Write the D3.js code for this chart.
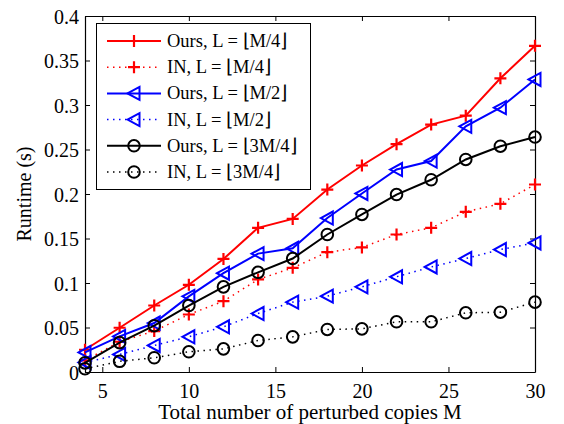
<!DOCTYPE html>
<html>
<head>
<meta charset="utf-8">
<script src="https://cdn.jsdelivr.net/npm/d3@7"></script>
<style>
  body { margin: 0; background: #fff; }
</style>
</head>
<body>
<script>
var copies = [4, 6, 8, 10, 12, 14, 16, 18, 20, 22, 24, 26, 28, 30];
var oursQuarter = [0.025, 0.0497, 0.0747, 0.098, 0.127, 0.162, 0.172, 0.205, 0.232, 0.256, 0.278, 0.288, 0.33, 0.3665];
var inQuarter   = [0.013, 0.034, 0.046, 0.0646, 0.0796, 0.104, 0.117, 0.1346, 0.140, 0.1545, 0.162, 0.180, 0.189, 0.2107];
var oursHalf    = [0.022, 0.040, 0.055, 0.085, 0.111, 0.133, 0.139, 0.173, 0.2006, 0.2275, 0.237, 0.276, 0.297, 0.3287];
var inHalf      = [0.0107, 0.0197, 0.0298, 0.0396, 0.0508, 0.0657, 0.0785, 0.0852, 0.0957, 0.107, 0.118, 0.1275, 0.1376, 0.145];
var oursThree   = [0.0103, 0.033, 0.052, 0.0747, 0.0957, 0.112, 0.1275, 0.1545, 0.177, 0.1994, 0.216, 0.2388, 0.2537, 0.264];
var inThree     = [0.0036, 0.012, 0.016, 0.0227, 0.026, 0.0354, 0.0395, 0.0478, 0.0485, 0.0564, 0.0564, 0.0665, 0.0672, 0.0785];

var xTicks = [5, 10, 15, 20, 25, 30];
var yTicks = [0, 0.05, 0.1, 0.15, 0.2, 0.25, 0.3, 0.35, 0.4];
var yTickLabels = ["0", "0.05", "0.1", "0.15", "0.2", "0.25", "0.3", "0.35", "0.4"];

var series = [
  {name: "Ours, L = \u230AM/4\u230B", values: oursQuarter, color: "#ff0000", marker: "plus", dotted: false},
  {name: "IN, L = \u230AM/4\u230B", values: inQuarter, color: "#ff0000", marker: "plus", dotted: true},
  {name: "Ours, L = \u230AM/2\u230B", values: oursHalf, color: "#0000ff", marker: "tri", dotted: false},
  {name: "IN, L = \u230AM/2\u230B", values: inHalf, color: "#0000ff", marker: "tri", dotted: true},
  {name: "Ours, L = \u230A3M/4\u230B", values: oursThree, color: "#000000", marker: "circle", dotted: false},
  {name: "IN, L = \u230A3M/4\u230B", values: inThree, color: "#000000", marker: "circle", dotted: true}
];

var FONT = "Liberation Serif";

var W = 564, H = 424;
var margin = {top: 16, right: 29, bottom: 52, left: 85},
    width = W - margin.left - margin.right,
    height = H - margin.top - margin.bottom;

var svg = d3.select("body").append("svg")
    .attr("width", W)
    .attr("height", H);

var g = svg.append("g")
    .attr("transform", "translate(" + margin.left + "," + margin.top + ")");

var x = d3.scaleLinear().domain([4, 30]).range([0, width]);
var y = d3.scaleLinear().domain([0, 0.4]).range([height, 0]);

// box axes, ticks pointing inward
var xAxis = g.append("g")
    .attr("transform", "translate(0," + height + ")")
    .call(d3.axisBottom(x).tickValues(xTicks).tickSizeInner(-5).tickSizeOuter(0).tickPadding(12));
var xTop = g.append("g")
    .call(d3.axisTop(x).tickValues(xTicks).tickSizeInner(-5).tickSizeOuter(0).tickFormat(""));
var yAxis = g.append("g")
    .call(d3.axisLeft(y).tickValues(yTicks).tickSizeInner(-5).tickSizeOuter(0).tickPadding(6)
      .tickFormat(function(d, i) { return yTickLabels[i]; }));
var yRight = g.append("g")
    .attr("transform", "translate(" + width + ",0)")
    .call(d3.axisRight(y).tickValues(yTicks).tickSizeInner(-5).tickSizeOuter(0).tickFormat(""));

[xAxis, xTop, yAxis, yRight].forEach(function(a) {
  a.select(".domain").attr("stroke", "#000").attr("stroke-width", 1.2);
  a.selectAll(".tick line").attr("stroke", "#000").attr("stroke-width", 1);
  a.selectAll(".tick text").attr("fill", "#000")
    .style("font-family", FONT).style("font-size", "20px");
});
yAxis.selectAll(".tick text").attr("dy", "0.35em");

var line = d3.line()
    .x(function(d, i) { return x(copies[i]); })
    .y(function(d) { return y(d); });

function drawMarker(sel, type, color, cx, cy) {
  if (type === "plus") {
    sel.append("path")
      .attr("d", "M" + (cx - 6) + "," + cy + "H" + (cx + 6) + "M" + cx + "," + (cy - 6) + "V" + (cy + 6))
      .attr("stroke", color).attr("stroke-width", 2.2).attr("fill", "none");
  } else if (type === "tri") {
    sel.append("path")
      .attr("d", "M" + (cx - 6.5) + "," + cy + "L" + (cx + 5.5) + "," + (cy - 6.5) + "L" + (cx + 5.5) + "," + (cy + 6.5) + "Z")
      .attr("stroke", color).attr("stroke-width", 2).attr("fill", "none");
  } else {
    sel.append("circle")
      .attr("cx", cx).attr("cy", cy).attr("r", 5.8)
      .attr("stroke", color).attr("stroke-width", 2).attr("fill", "none");
  }
}

// dotted series underneath, solid on top
var order = [1, 3, 5, 0, 2, 4];
order.forEach(function(k) {
  var s = series[k];
  var sg = g.append("g");
  sg.append("path")
    .datum(s.values)
    .attr("d", line)
    .attr("fill", "none")
    .attr("stroke", s.color)
    .attr("stroke-width", s.dotted ? 1.5 : 2)
    .attr("stroke-dasharray", s.dotted ? "1.5,4.5" : null);
  s.values.forEach(function(v, i) {
    drawMarker(sg, s.marker, s.color, x(copies[i]), y(v));
  });
});

// legend
var lg = svg.append("g");
lg.append("rect")
  .attr("x", 96.5).attr("y", 23.5)
  .attr("width", 214).attr("height", 166)
  .attr("fill", "#fff").attr("stroke", "#000").attr("stroke-width", 1);
series.forEach(function(s, i) {
  var ly = 41 + i * 26.2;
  lg.append("line")
    .attr("x1", 107).attr("x2", 161).attr("y1", ly).attr("y2", ly)
    .attr("stroke", s.color)
    .attr("stroke-width", s.dotted ? 1.5 : 2)
    .attr("stroke-dasharray", s.dotted ? "1.5,4.5" : null);
  drawMarker(lg, s.marker, s.color, 134, ly);
  lg.append("text")
    .attr("x", 167).attr("y", ly + 6)
    .style("font-family", FONT).style("font-size", "18.5px")
    .text(s.name);
});

// axis labels
svg.append("text")
  .attr("x", margin.left + width / 2).attr("y", 419)
  .attr("text-anchor", "middle")
  .style("font-family", FONT).style("font-size", "21px")
  .text("Total number of perturbed copies M");

svg.append("text")
  .attr("transform", "translate(31," + (margin.top + height / 2) + ") rotate(-90)")
  .attr("text-anchor", "middle")
  .style("font-family", FONT).style("font-size", "20px")
  .text("Runtime (s)");
</script>
</body>
</html>
